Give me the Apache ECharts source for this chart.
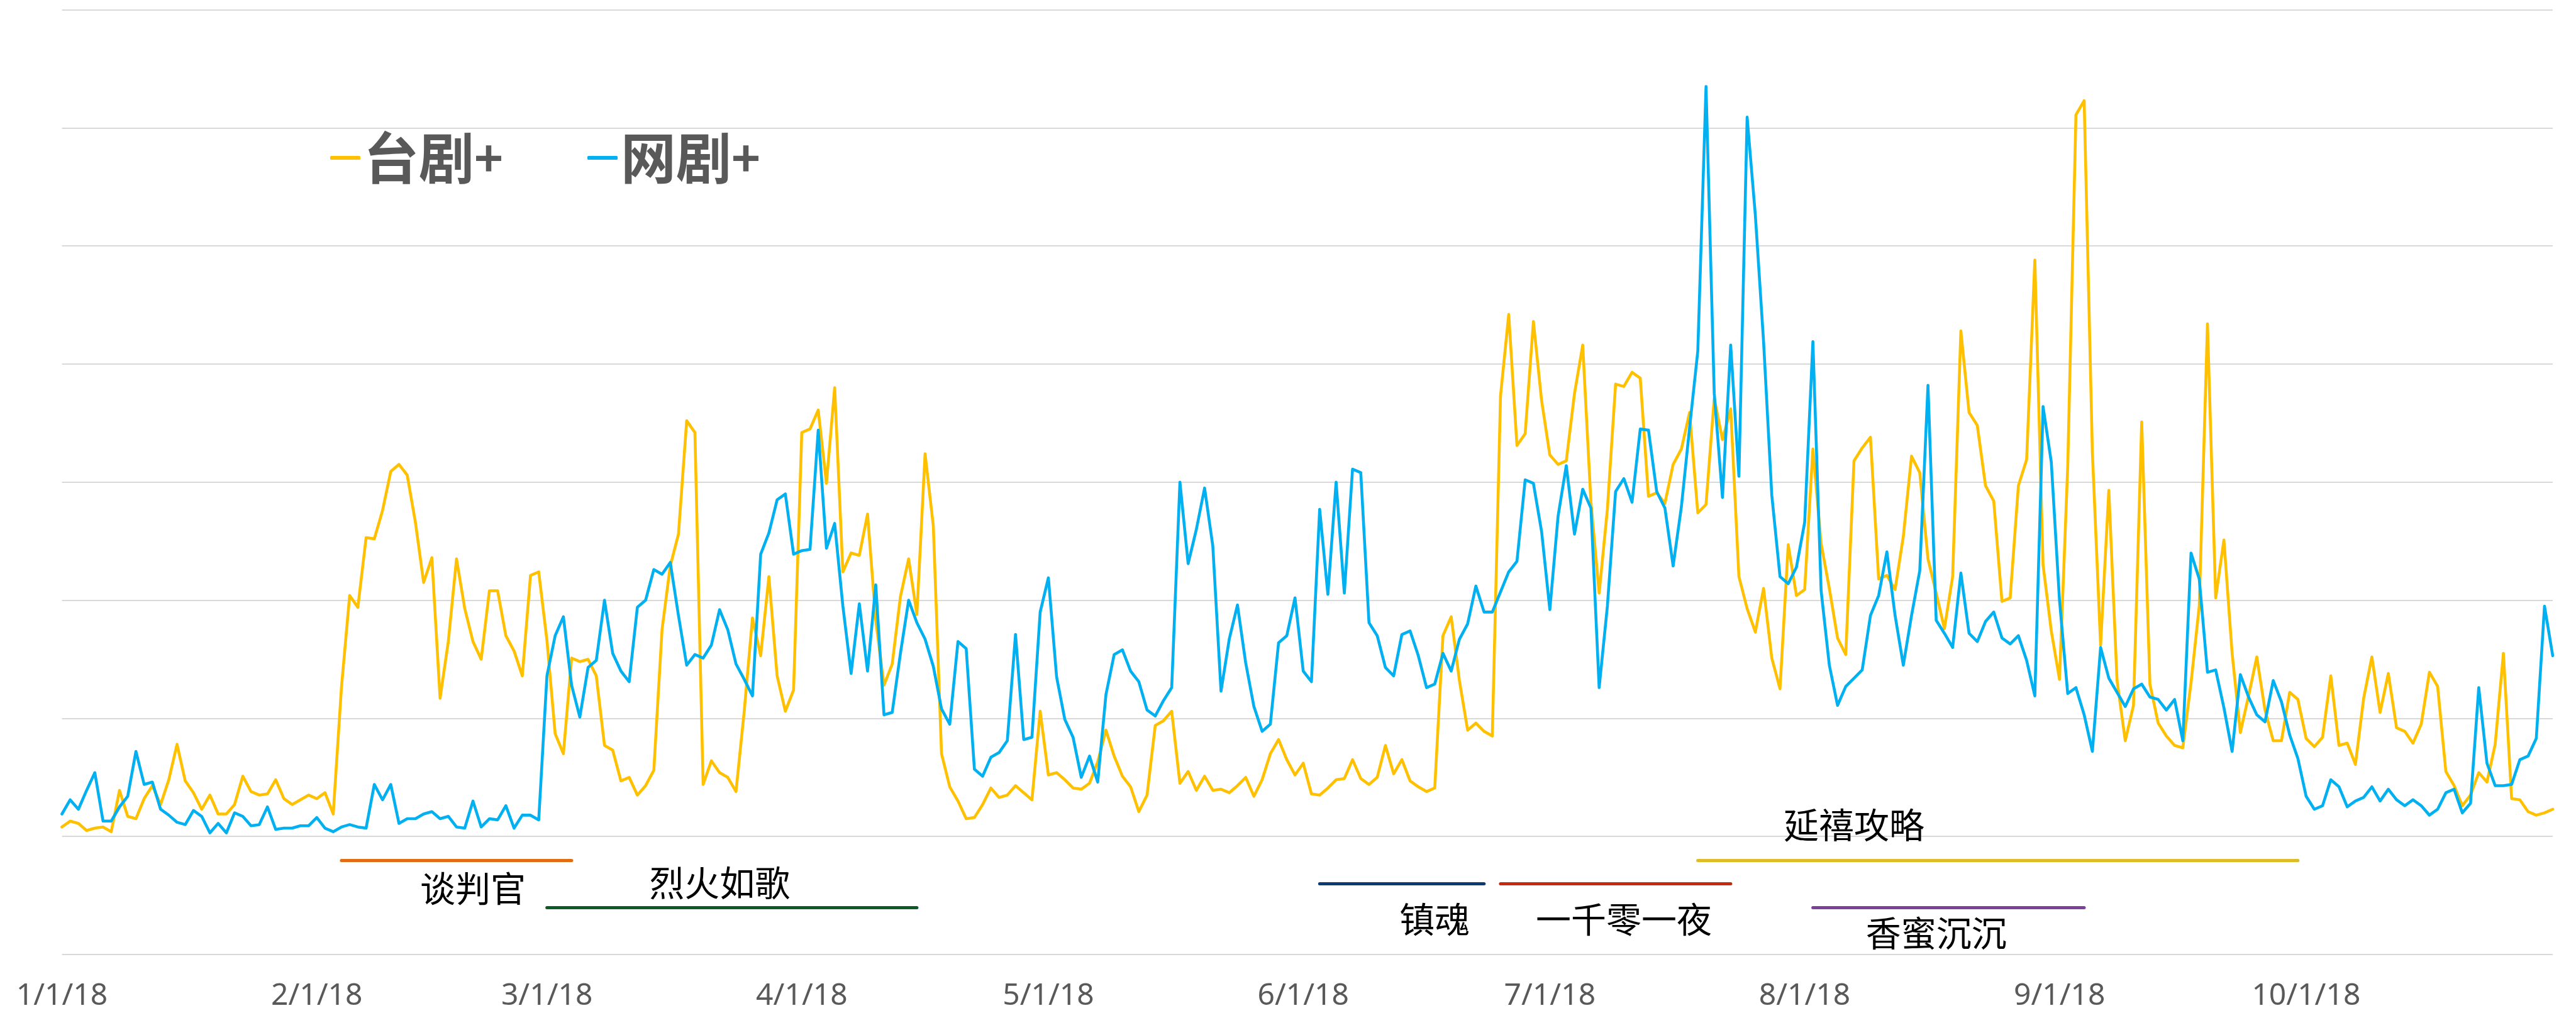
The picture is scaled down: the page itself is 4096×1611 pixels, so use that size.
<!DOCTYPE html>
<html>
<head>
<meta charset="utf-8">
<title>台剧+ / 网剧+</title>
<script src="https://cdn.jsdelivr.net/npm/echarts@6.0.0/dist/echarts.min.js"></script>
<style>
  html, body { margin: 0; padding: 0; background: #fff; }
  #chart { width: 4096px; height: 1611px; }
</style>
</head>
<body>
<div id="chart"></div>
<script>
// 2018-01-01 ~ 2018-10-31, 按天
const days = []
for (let t = Date.UTC(2018, 0, 1); t <= Date.UTC(2018, 9, 31); t += 86400000) {
  let d = new Date(t)
  days.push((d.getUTCMonth() + 1) + '/' + d.getUTCDate() + '/18')
}

const taiju = [
  1.08, 1.13, 1.11, 1.05, 1.07, 1.08, 1.04, 1.39, 1.17, 1.15, 1.32, 1.43, 1.27, 1.48, 1.78, 1.47, 1.37, 1.23, 1.35, 1.19,
  1.19, 1.27, 1.51, 1.38, 1.35, 1.36, 1.48, 1.32, 1.27, 1.31, 1.35, 1.32, 1.37, 1.19, 2.26, 3.04, 2.94, 3.53, 3.52,
  3.76, 4.09, 4.15, 4.06, 3.66, 3.15, 3.36, 2.17, 2.65, 3.35, 2.93, 2.65, 2.50, 3.08, 3.08, 2.70, 2.57, 2.36, 3.21, 3.24,
  2.66, 1.87, 1.70, 2.51, 2.48, 2.50, 2.36, 1.77, 1.73, 1.47, 1.50, 1.35, 1.43, 1.56, 2.75, 3.29, 3.56, 4.52, 4.42,
  1.44, 1.64, 1.54, 1.50, 1.38, 2.06, 2.85, 2.53, 3.20, 2.36, 2.06, 2.24, 4.42, 4.45, 4.61, 3.99, 4.80, 3.24, 3.40,
  3.38, 3.73, 2.83, 2.28, 2.46, 3.03, 3.35, 2.88, 4.24, 3.63, 1.70, 1.42, 1.30, 1.15, 1.16, 1.27, 1.41, 1.33, 1.35,
  1.43, 1.37, 1.31, 2.06, 1.52, 1.54, 1.48, 1.41, 1.40, 1.45, 1.63, 1.90, 1.68, 1.51, 1.42, 1.21, 1.35, 1.94, 1.98, 2.06,
  1.45, 1.55, 1.39, 1.51, 1.39, 1.40, 1.37, 1.43, 1.50, 1.34, 1.48, 1.70, 1.82, 1.65, 1.52, 1.62, 1.36, 1.35, 1.41,
  1.48, 1.49, 1.65, 1.49, 1.44, 1.50, 1.77, 1.53, 1.65, 1.47, 1.42, 1.38, 1.41, 2.70, 2.86, 2.32, 1.90, 1.96, 1.89,
  1.85, 4.73, 5.42, 4.31, 4.41, 5.36, 4.69, 4.23, 4.15, 4.18, 4.75, 5.16, 3.83, 3.06, 3.77, 4.83, 4.81, 4.93, 4.88,
  3.88, 3.91, 3.82, 4.15, 4.28, 4.59, 3.74, 3.81, 4.71, 4.36, 4.62, 3.20, 2.93, 2.73, 3.10, 2.51, 2.25, 3.47, 3.04,
  3.09, 4.28, 3.48, 3.10, 2.68, 2.54, 4.18, 4.29, 4.38, 3.18, 3.21, 3.09, 3.54, 4.22, 4.08, 3.35, 3.06, 2.76, 3.20,
  5.28, 4.59, 4.48, 3.97, 3.84, 2.99, 3.02, 3.97, 4.19, 5.88, 3.30, 2.74, 2.33, 4.13, 7.11, 7.23, 4.25, 2.62, 3.93, 2.32,
  1.81, 2.11, 4.51, 2.29, 1.96, 1.85, 1.77, 1.75, 2.30, 2.95, 5.34, 3.02, 3.51, 2.55, 1.88, 2.19, 2.52, 2.07, 1.81,
  1.81, 2.22, 2.16, 1.83, 1.76, 1.84, 2.36, 1.77, 1.79, 1.61, 2.17, 2.52, 2.05, 2.38, 1.92, 1.89, 1.79,
  1.95, 2.39, 2.27, 1.55, 1.43, 1.26, 1.35, 1.54, 1.46, 1.78, 2.55, 1.32, 1.31, 1.21, 1.18, 1.20, 1.23
]

const wangju = [
  1.19, 1.31, 1.23, 1.39, 1.54, 1.13, 1.13, 1.25, 1.34, 1.72, 1.44, 1.46, 1.23, 1.18, 1.12, 1.10, 1.22, 1.17, 1.03, 1.11,
  1.03, 1.20, 1.17, 1.09, 1.10, 1.25, 1.06, 1.07, 1.07, 1.09, 1.09, 1.16, 1.07, 1.04, 1.08, 1.10, 1.08, 1.07, 1.44,
  1.31, 1.44, 1.11, 1.15, 1.15, 1.19, 1.21, 1.15, 1.17, 1.08, 1.07, 1.30, 1.08, 1.15, 1.14, 1.26, 1.07, 1.18, 1.18, 1.14,
  2.36, 2.70, 2.86, 2.28, 2.01, 2.43, 2.49, 3.00, 2.55, 2.40, 2.31, 2.94, 3.00, 3.26, 3.22, 3.32, 2.87, 2.45, 2.54,
  2.51, 2.62, 2.92, 2.75, 2.46, 2.33, 2.19, 3.39, 3.57, 3.85, 3.90, 3.39, 3.42, 3.43, 4.44, 3.44, 3.65, 2.95, 2.38,
  2.97, 2.40, 3.13, 2.03, 2.05, 2.55, 3.00, 2.81, 2.67, 2.44, 2.08, 1.95, 2.65, 2.59, 1.57, 1.51, 1.67, 1.71, 1.81,
  2.71, 1.82, 1.84, 2.90, 3.19, 2.35, 1.99, 1.84, 1.50, 1.68, 1.46, 2.20, 2.54, 2.58, 2.40, 2.31, 2.07, 2.02, 2.15, 2.26,
  4.00, 3.31, 3.60, 3.95, 3.46, 2.23, 2.67, 2.96, 2.47, 2.10, 1.89, 1.95, 2.64, 2.70, 3.02, 2.40, 2.31, 3.77, 3.05,
  4.00, 3.06, 4.11, 4.08, 2.81, 2.70, 2.43, 2.36, 2.71, 2.74, 2.53, 2.26, 2.29, 2.55, 2.40, 2.67, 2.80, 3.12, 2.90,
  2.90, 3.07, 3.24, 3.33, 4.02, 3.99, 3.58, 2.92, 3.71, 4.14, 3.56, 3.94, 3.78, 2.26, 2.95, 3.92, 4.03, 3.83, 4.45,
  4.44, 3.92, 3.78, 3.29, 3.79, 4.46, 5.11, 7.35, 4.75, 3.87, 5.16, 4.05, 7.09, 6.26, 5.19, 3.89, 3.20, 3.14, 3.28,
  3.66, 5.19, 3.08, 2.45, 2.11, 2.27, 2.34, 2.41, 2.87, 3.04, 3.41, 2.87, 2.45, 2.87, 3.25, 4.82, 2.83, 2.72, 2.60,
  3.23, 2.72, 2.65, 2.82, 2.90, 2.68, 2.63, 2.70, 2.49, 2.19, 4.64, 4.17, 3.00, 2.21, 2.26, 2.03, 1.72, 2.60, 2.34, 2.22,
  2.10, 2.25, 2.29, 2.18, 2.16, 2.07, 2.16, 1.81, 3.40, 3.18, 2.39, 2.41, 2.09, 1.72, 2.37, 2.18, 2.03, 1.97, 2.32,
  2.14, 1.86, 1.66, 1.34, 1.23, 1.26, 1.48, 1.42, 1.25, 1.30, 1.33, 1.42, 1.30, 1.40, 1.31, 1.26, 1.31,
  1.26, 1.18, 1.23, 1.37, 1.40, 1.20, 1.28, 2.26, 1.62, 1.43, 1.43, 1.44, 1.65, 1.68, 1.83, 2.95, 2.53
]

// 剧目播出区间
const dramaNames = ['谈判官', '烈火如歌', '镇魂', '一千零一夜', '延禧攻略', '香蜜沉沉']
const dramaStart = ['2/4/18', '3/1/18', '6/3/18', '6/25/18', '7/19/18', '8/2/18']
const dramaEnd = ['3/4/18', '4/15/18', '6/23/18', '7/23/18', '9/30/18', '9/4/18']

// 标注的样式和摆放位置
const dramaColors = ['#E06C14', '#0C5A28', '#0A3C73', '#C8280F', '#DEBC28', '#7D419B']
const dramaLineY = [0.8, 0.4, 0.6, 0.6, 0.8, 0.4]
const dramaLabelAt = ['2/20/18', '3/22/18', '6/17/18', '7/10/18', '8/7/18', '8/17/18']
const dramaLabelY = [0.56, 0.61, 0.3, 0.3, 1.1, 0.18]

const cjk = '"Noto Sans CJK SC", "Noto Sans", sans-serif'

let markLines = dramaNames.map((name, i) => {
  return [
    { coord: [dramaStart[i], dramaLineY[i]], lineStyle: { color: dramaColors[i], width: 5, type: 'solid', cap: 'round' } },
    { coord: [dramaEnd[i], dramaLineY[i]] }
  ]
})
let markPoints = dramaNames.map((name, i) => {
  return {
    name: name,
    coord: [dramaLabelAt[i], dramaLabelY[i]],
    symbol: 'circle',
    symbolSize: 0,
    label: {
      show: true,
      position: 'inside',
      formatter: name,
      color: '#000',
      fontSize: 56,
      fontFamily: cjk
    }
  }
})

let chart = echarts.init(document.getElementById('chart'))
chart.setOption({
  animation: false,
  backgroundColor: '#fff',
  grid: {
    left: 98.5,
    right: 37,
    top: 15.5,
    bottom: 93,
    containLabel: false
  },
  legend: {
    left: 520,
    top: 202,
    icon: 'roundRect',
    itemWidth: 48,
    itemHeight: 6,
    itemGap: 134,
    formatter: name => '{b|' + name.slice(0, -1) + '}{p|+}',
    textStyle: {
      color: '#595959',
      fontFamily: cjk,
      rich: {
        b: { color: '#595959', fontSize: 88, fontWeight: 'bold', fontFamily: cjk },
        p: { color: '#595959', fontSize: 78, fontWeight: 'bold', fontFamily: cjk }
      }
    },
    data: ['台剧+', '网剧+']
  },
  xAxis: {
    type: 'category',
    data: days,
    boundaryGap: false,
    axisLine: { show: false },
    axisTick: { show: false },
    splitLine: { show: false },
    axisLabel: {
      interval: (index, value) => value.split('/')[1] === '1',
      color: '#595959',
      fontSize: 48,
      margin: 42,
      fontFamily: '"Noto Sans", sans-serif'
    }
  },
  yAxis: {
    type: 'value',
    min: 0,
    max: 8,
    interval: 1,
    axisLine: { show: false },
    axisTick: { show: false },
    axisLabel: { show: false },
    splitLine: {
      lineStyle: { color: '#D9D9D9', width: 2 }
    }
  },
  series: [
    {
      name: '台剧+',
      type: 'line',
      data: taiju,
      showSymbol: false,
      symbol: 'none',
      color: '#FFC000',
      lineStyle: { width: 4.6, join: 'round', cap: 'round' },
      markLine: {
        silent: true,
        symbol: ['none', 'none'],
        label: { show: false },
        data: markLines
      },
      markPoint: {
        silent: true,
        data: markPoints
      }
    },
    {
      name: '网剧+',
      type: 'line',
      data: wangju,
      showSymbol: false,
      symbol: 'none',
      color: '#00B0F0',
      lineStyle: { width: 4.6, join: 'round', cap: 'round' }
    }
  ]
})
</script>
</body>
</html>
